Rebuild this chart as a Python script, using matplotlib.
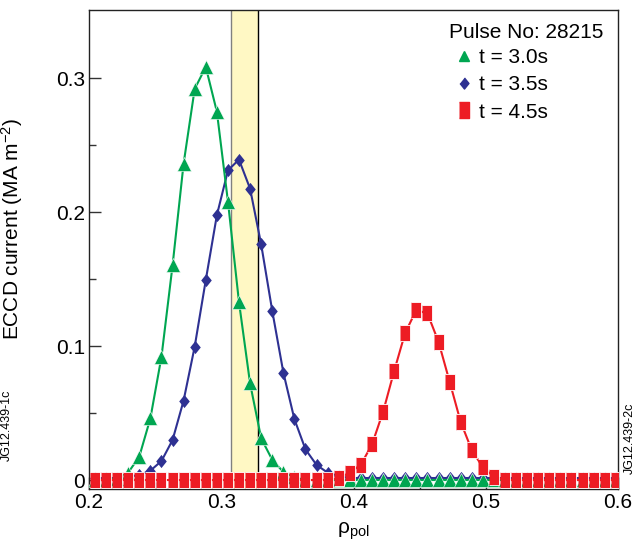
import matplotlib.pyplot as plt
from matplotlib.lines import Line2D

plt.rcParams['font.family'] = ['Liberation Sans', 'DejaVu Sans']
plt.rcParams['mathtext.fontset'] = 'custom'
plt.rcParams['mathtext.rm'] = 'Liberation Sans'
plt.rcParams['mathtext.it'] = 'Liberation Sans:italic'

# rho_pol grid
rho = [0.2045, 0.2129, 0.2213, 0.2296, 0.2380, 0.2464, 0.2548, 0.2632,
       0.2715, 0.2799, 0.2883, 0.2967, 0.3051, 0.3134, 0.3218, 0.3302,
       0.3386, 0.3470, 0.3553, 0.3637, 0.3721, 0.3805, 0.3889, 0.3972,
       0.4056, 0.4140, 0.4224, 0.4308, 0.4391, 0.4475, 0.4559, 0.4643,
       0.4727, 0.4810, 0.4894, 0.4978, 0.5062, 0.5146, 0.5229, 0.5313,
       0.5397, 0.5481, 0.5565, 0.5648, 0.5732, 0.5816, 0.5900, 0.5984]

# t = 3.0s
eccd_30 = [0.0, 0.0, 0.001, 0.0055, 0.0174, 0.046, 0.092, 0.1604,
           0.236, 0.292, 0.3085, 0.275, 0.2077, 0.133, 0.0721, 0.0311,
           0.015, 0.006, 0.002, 0.0, 0.0, 0.0, 0.0, 0.0,
           0.0, 0.0, 0.0, 0.0, 0.0, 0.0, 0.0, 0.0,
           0.0, 0.0, 0.0, 0.0, 0.0, 0.0, 0.0, 0.0,
           0.0, 0.0, 0.0, 0.0, 0.0, 0.0, 0.0, 0.0]

# t = 3.5s
eccd_35 = [0.0015, 0.0015, 0.0015, 0.0025, 0.0037, 0.007, 0.0142, 0.0299,
           0.0592, 0.0995, 0.1493, 0.1978, 0.2313, 0.2393, 0.2176, 0.1759,
           0.1261, 0.0801, 0.0455, 0.0229, 0.0112, 0.0055, 0.003, 0.0015,
           0.0015, 0.0015, 0.0015, 0.0015, 0.0015, 0.0015, 0.0015, 0.0015,
           0.0015, 0.0015, 0.0015, 0.0015, 0.0015, 0.0015, 0.0015, 0.0015,
           0.0015, 0.0015, 0.0015, 0.0015, 0.0015, 0.0015, 0.0015, 0.0015]

# t = 4.5s
eccd_45 = [0.0, 0.0, 0.0, 0.0, 0.0, 0.0, 0.0, 0.0,
           0.0, 0.0, 0.0, 0.0, 0.0, 0.0, 0.0, 0.0,
           0.0, 0.0, 0.0, 0.0, 0.0, 0.0, 0.0015, 0.0055,
           0.0115, 0.0266, 0.051, 0.0816, 0.110, 0.1269, 0.1244, 0.1032,
           0.0734, 0.0435, 0.0224, 0.0095, 0.0025, 0.0, 0.0, 0.0,
           0.0, 0.0, 0.0, 0.0, 0.0, 0.0, 0.0, 0.0]

band = (0.3075, 0.3275)
labels = ["t = 3.0s", "t = 3.5s", "t = 4.5s"]
pulse = "Pulse No: 28215"

green = "#00a651"
blue = "#2e3192"
red = "#ed1c24"

diamond = [(0, 1), (0.8, 0), (0, -1), (-0.8, 0)]
rect = [(-0.32, -0.5), (0.32, -0.5), (0.32, 0.5), (-0.32, 0.5)]

fig = plt.figure(figsize=(6.4, 5.44), dpi=100)
ax = fig.add_axes([89/640, 1 - 489/544, (618 - 89)/640, (489 - 10)/544])

ax.axvspan(band[0], band[1], color="#fff8c4", lw=0, zorder=0)
ax.axvline(band[0], color="#808080", lw=1, zorder=1)
ax.axvline(band[1], color="black", lw=1, zorder=1)

ax.plot(rho, eccd_35, color=blue, lw=1.5, marker=diamond, ms=9.5,
        mec=blue, mew=0, zorder=3)
ax.plot(rho, eccd_30, color=green, lw=1.5, marker="^", ms=9.5,
        mec="white", mew=0.4, zorder=4)
ax.plot(rho, eccd_45, color=red, lw=1.5, marker=rect, ms=12,
        mec="white", mew=0.6, zorder=5)

ax.set_xlim(0.2, 0.6)
ax.set_ylim(-0.0067, 0.351)
ax.set_xticks([0.2, 0.3, 0.4, 0.5, 0.6])
ax.set_xticklabels(["0.2", "0.3", "0.4", "0.5", "0.6"])
ax.set_xticks([0.25, 0.35, 0.45, 0.55], minor=True)
ax.set_yticks([0, 0.1, 0.2, 0.3])
ax.set_yticklabels(["0", "0.1", "0.2", "0.3"])
ax.set_yticks([0.05, 0.15, 0.25], minor=True)
ax.tick_params(which="both", direction="in", labelsize=15, color="#333333")
ax.tick_params(which="major", length=8.5, width=1, pad=3)
ax.tick_params(which="minor", length=5, width=1)
for s in ax.spines.values():
    s.set_linewidth(1)
    s.set_color("#222222")

ax.set_ylabel("ECCD current (MA m$^{-2}$)", fontsize=15)
ax.yaxis.set_label_coords(-0.121, 0.543)
ax.set_xlabel("ρ$_{\\mathrm{pol}}$", fontsize=15, labelpad=6)

# legend title as its own text, entries indented below it
ax.text(603/640, 1 - 33/544, pulse, transform=fig.transFigure, fontsize=15,
        ha="right", va="center")
handles = [Line2D([], [], ls="none", marker="^", ms=7, color=green),
           Line2D([], [], ls="none", marker=diamond, ms=8, color=blue),
           Line2D([], [], ls="none", marker=rect, ms=11, color=red)]
ax.legend(handles, labels, loc="upper left",
          bbox_to_anchor=(458/640, 1 - 48/544), bbox_transform=fig.transFigure,
          frameon=False, fontsize=15, handlelength=0.6, handletextpad=0.4,
          labelspacing=0.4, borderpad=0.0, borderaxespad=0.0)

fig.text(630/640, 1 - 438/544, "JG12.439-2c", rotation=90, fontsize=9,
         ha="center", va="center")
fig.text(7/640, 1 - 425/544, "JG12.439-1c", rotation=90, fontsize=9,
         ha="center", va="center")

fig.savefig("out.png", dpi=100)
